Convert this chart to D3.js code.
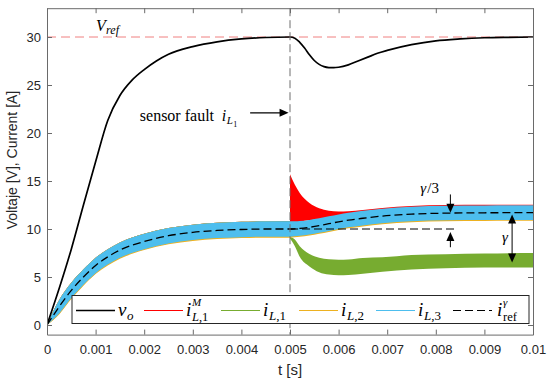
<!DOCTYPE html>
<html><head><meta charset="utf-8">
<script src="https://cdn.jsdelivr.net/npm/d3@7"></script>
<style>body{margin:0;background:#fff}</style>
</head><body><svg id="c" width="550" height="384"></svg>
<script>
// ---------------- data ----------------
const tTicks = [0,0.001,0.002,0.003,0.004,0.005,0.006,0.007,0.008,0.009,0.01];
const tTickLabels = ["0","0.001","0.002","0.003","0.004","0.005","0.006","0.007","0.008","0.009","0.01"];
const yTicks = [0,5,10,15,20,25,30];
const vRef = 30;
const tFault = 0.005;

// output voltage v_o
const tV = [0,0.00025,0.0005,0.00075,0.001,0.00125,0.0015,0.00175,0.002,0.00225,0.0025,0.003,0.0035,0.004,0.0045,0.005,
            0.0051,0.0052,0.0053,0.0054,0.0055,0.0056,0.0057,0.0058,0.0059,0.006,0.0062,0.0064,0.0066,0.0068,0.007,0.0075,0.008,0.0085,0.009,0.0095,0.01];
const vo = [0,3.8,7.9,12.5,17.0,21.3,23.9,25.5,26.6,27.5,28.2,29.0,29.5,29.8,29.95,30,
            29.88,29.45,28.85,28.15,27.55,27.15,26.92,26.82,26.8,26.85,27.1,27.5,27.9,28.3,28.6,29.2,29.6,29.8,29.92,29.97,30];

// currents before the fault (all phases alike)
const tPre = [0,0.00025,0.0005,0.00075,0.001,0.00125,0.0015,0.002,0.0025,0.003,0.0035,0.004,0.0045,0.005];
const iPreHi = [0,2.6,4.4,5.8,7.0,7.9,8.6,9.5,10.1,10.45,10.65,10.75,10.8,10.8];
const iPreLo = [0,1.2,2.8,4.2,5.4,6.3,7.0,7.9,8.5,8.85,9.05,9.15,9.2,9.2];
const iL2PreLo = [0,1.1,2.7,4.1,5.3,6.2,6.9,7.8,8.4,8.75,8.95,9.05,9.1,9.1];
const iRefPre = [0,1.9,3.6,5.0,6.2,7.1,7.8,8.7,9.3,9.65,9.85,9.95,10.0,10.0];

// after the fault
const tPost = [0.005,0.0051,0.0052,0.0054,0.0056,0.0058,0.006,0.0062,0.0065,0.0069,0.0075,0.0082,0.009,0.01];
const iRefPost  = [10.0,10.02,10.06,10.18,10.35,10.55,10.75,10.92,11.12,11.35,11.55,11.65,11.69,11.7];
const iL3PostHi = [10.8,10.8,10.83,10.95,11.12,11.32,11.52,11.69,11.89,12.12,12.32,12.42,12.46,12.47];
const iL3PostLo = [9.2,9.25,9.3,9.42,9.6,9.8,10.0,10.17,10.37,10.6,10.8,10.9,10.94,10.95];
const iL2PostHi = [10.7,10.7,10.73,10.85,11.02,11.22,11.42,11.59,11.79,12.02,12.22,12.32,12.36,12.37];
const iL2PostLo = [9.1,9.15,9.2,9.32,9.5,9.7,9.9,10.07,10.27,10.5,10.7,10.8,10.84,10.85];
const iM1PostHi = [15.7,14.6,13.75,12.7,12.15,11.9,11.82,11.85,11.98,12.2,12.4,12.5,12.52,12.52];
const iM1PostLo = [10.4,10.6,10.75,10.9,11.05,11.25,11.4,11.5,11.6,11.7,11.8,11.85,11.85,11.85];
const iL1PostHi = [9.2,8.9,8.2,7.4,7.0,6.85,6.8,6.82,6.98,7.05,7.3,7.38,7.45,7.5];
const iL1PostLo = [9.0,8.2,7.1,6.1,5.5,5.25,5.18,5.2,5.35,5.55,5.78,5.92,5.98,6.0];

// annotations (data coordinates)
const refHoldEnd = 0.0084;       // dashed level at 10 A
const refHoldLevel = 10;
const gamma = 5;

// ---------------- drawing ----------------
const svg = d3.select("#c");
const x = d3.scaleLinear().domain([0,0.01]).range([47,533]);
const y = d3.scaleLinear().domain([-1,33]).range([334.6,8.2]);
const colors = {vo:"#000000", iM1:"#ff0000", iL1:"#77ac30", iL2:"#edb120", iL3:"#4dbeee", ref:"#000000"};

const defs = svg.append("defs");
defs.append("clipPath").attr("id","clip").append("rect")
  .attr("x",x(0)).attr("y",y(33)).attr("width",x(0.01)-x(0)).attr("height",y(-1)-y(33));

const plot = svg.append("g").attr("clip-path","url(#clip)");

const zip = (t,lo,hi)=>t.map((d,i)=>({t:d,lo:lo[i],hi:hi[i]}));
const area = d3.area().x(d=>x(d.t)).y0(d=>y(d.lo)).y1(d=>y(d.hi)).curve(d3.curveMonotoneX);
const line = d3.line().x(d=>x(d.t)).y(d=>y(d.v)).curve(d3.curveMonotoneX);

// red: measured i_L1 (pre + post)
plot.append("path").attr("d",area(zip(tPre,iPreLo,iPreHi))).attr("fill",colors.iM1);
plot.append("path").attr("d",area(zip(tPost,iM1PostLo,iM1PostHi))).attr("fill",colors.iM1);
// green: real i_L1
plot.append("path").attr("d",area(zip(tPre,iPreLo,iPreHi))).attr("fill",colors.iL1);
plot.append("path").attr("d",area(zip(tPost,iL1PostLo,iL1PostHi))).attr("fill",colors.iL1);
// orange i_L2
const tAll = tPre.concat(tPost.slice(1));
plot.append("path").attr("d",area(zip(tAll,iL2PreLo.concat(iL2PostLo.slice(1)),iPreHi.slice(0,-1).concat(iL2PostHi)))).attr("fill",colors.iL2);
// blue i_L3
plot.append("path").attr("d",area(zip(tAll,iPreLo.concat(iL3PostLo.slice(1)),iPreHi.concat(iL3PostHi.slice(1))))).attr("fill",colors.iL3);

// Vref line
plot.append("line").attr("x1",x(0)).attr("x2",x(0.01)).attr("y1",y(vRef)).attr("y2",y(vRef))
  .attr("stroke","#f08080").attr("stroke-width",1).attr("stroke-dasharray","9,5");

// reference current
const refAll = iRefPre.concat(iRefPost.slice(1));
plot.append("path").attr("d",line(tAll.map((t,i)=>({t, v: refAll[i]})))).attr("fill","none").attr("stroke",colors.ref)
  .attr("stroke-width",1.3).attr("stroke-dasharray","8,4");

// hold level dashed
plot.append("line").attr("x1",x(tFault)).attr("x2",x(refHoldEnd)).attr("y1",y(refHoldLevel)).attr("y2",y(refHoldLevel))
  .attr("stroke","#000").attr("stroke-width",1).attr("stroke-dasharray","8,4");

// v_o
plot.append("path").attr("d",line(tV.map((t,i)=>({t,v:vo[i]})))).attr("fill","none")
  .attr("stroke",colors.vo).attr("stroke-width",1.7);

// fault line
svg.append("line").attr("x1",x(tFault)).attr("x2",x(tFault)).attr("y1",y(33)).attr("y2",y(-1))
  .attr("stroke","#6e6e6e").attr("stroke-width",1).attr("stroke-dasharray","8,4");

// ---------- axes box ----------
const axisColor = "#262626";
const sans = "Liberation Sans, Arial, Helvetica, sans-serif";
const gx = svg.append("g").attr("transform",`translate(0,${y(-1)})`)
  .call(d3.axisBottom(x).tickValues(tTicks).tickFormat((d,i)=>tTickLabels[i]).tickSizeInner(-5).tickSizeOuter(0).tickPadding(10));
const gxt = svg.append("g").attr("transform",`translate(0,${y(33)})`)
  .call(d3.axisTop(x).tickValues(tTicks).tickFormat("").tickSizeInner(-5).tickSizeOuter(0));
const gy = svg.append("g").attr("transform",`translate(${x(0)},0)`)
  .call(d3.axisLeft(y).tickValues(yTicks).tickSizeInner(-5).tickSizeOuter(0).tickPadding(6));
const gyr = svg.append("g").attr("transform",`translate(${x(0.01)},0)`)
  .call(d3.axisRight(y).tickValues(yTicks).tickFormat("").tickSizeInner(-5).tickSizeOuter(0));
[gx,gxt,gy,gyr].forEach(g=>{
  g.select(".domain").attr("stroke","#6a6a6a");
  g.selectAll(".tick line").attr("stroke","#6a6a6a");
  g.selectAll("text").attr("fill",axisColor).attr("font-family",sans).attr("font-size","13px");
});

svg.append("text").attr("x",(x(0)+x(0.01))/2).attr("y",375).attr("text-anchor","middle")
  .attr("font-family",sans).attr("font-size","15px").attr("fill",axisColor).text("t [s]");
svg.append("text").attr("transform",`translate(17,160) rotate(-90)`).attr("text-anchor","middle")
  .attr("font-family",sans).attr("font-size","14px").attr("fill",axisColor).text("Voltaje [V], Current [A]");

// ---------- annotations ----------
const serif = "Liberation Serif, Times New Roman, serif";
function txt(g, px, py, s, size, italic, anchor){
  return g.append("text").attr("x",px).attr("y",py).text(s)
    .attr("font-family",serif).attr("font-size",size+"px").attr("font-style",italic?"italic":"normal")
    .attr("text-anchor",anchor||"start").attr("fill","#000");
}
function head(g, px, py, dir){ // dir: 'up','down','right'
  const L=9, w=4;
  let p;
  if(dir==="down") p=[[px,py],[px-w,py-L],[px+w,py-L]];
  if(dir==="up") p=[[px,py],[px-w,py+L],[px+w,py+L]];
  if(dir==="right") p=[[px,py],[px-L,py-w],[px-L,py+w]];
  g.append("path").attr("d","M"+p.join("L")+"Z").attr("fill","#000");
}
const ann = svg.append("g");
// V_ref label
txt(ann, x(0.00101), y(30.65), "V", 16, true);
txt(ann, x(0.00101)+10, y(30.65)+3, "ref", 12, true);
// sensor fault
const sfY = y(21.3);
txt(ann, x(0.00191), sfY, "sensor fault", 16, false);
txt(ann, x(0.00191)+82, sfY, "i", 16, true);
txt(ann, x(0.00191)+87, sfY+3, "L", 11, true);
txt(ann, x(0.00191)+93.5, sfY+6, "1", 8, false);
ann.append("line").attr("x1",x(0.00418)).attr("x2",x(0.00485)).attr("y1",y(22.1)).attr("y2",y(22.1)).attr("stroke","#000").attr("stroke-width",1.2);
head(ann, x(0.00497), y(22.1), "right");
// gamma/3 arrows
const ta = 0.0083;
const refEnd = iRefPost[iRefPost.length-1];
ann.append("line").attr("x1",x(ta)).attr("x2",x(ta)).attr("y1",y(13.6)).attr("y2",y(refEnd)-8).attr("stroke","#000").attr("stroke-width",1);
head(ann, x(ta), y(refEnd), "down");
ann.append("line").attr("x1",x(ta)).attr("x2",x(ta)).attr("y1",y(8.1)).attr("y2",y(9.7)+8).attr("stroke","#000").attr("stroke-width",1);
head(ann, x(ta), y(9.7), "up");
txt(ann, x(0.00768), y(13.75), "γ", 15, true);
txt(ann, x(0.00768)+7, y(13.75), "/3", 15, false);
// gamma arrow
const tg = 0.00957;
ann.append("line").attr("x1",x(tg)).attr("x2",x(tg)).attr("y1",y(refEnd-0.2)+8).attr("y2",y(refEnd-0.2-gamma)-8).attr("stroke","#000").attr("stroke-width",1);
head(ann, x(tg), y(refEnd-0.2), "up");
head(ann, x(tg), y(refEnd-0.2-gamma), "down");
txt(ann, x(0.00936), y(8.6), "γ", 15, true);

// ---------- legend ----------
const lg = svg.append("g");
lg.append("rect").attr("x",72).attr("y",295.5).attr("width",457).attr("height",28)
  .attr("fill","#fff").attr("stroke","#262626").attr("stroke-width",1);
const ly = 310.5, bl = 316;
const items = [
  {c:colors.vo, x0:76, dash:null},
  {c:colors.iM1, x0:144, dash:null},
  {c:colors.iL1, x0:221, dash:null},
  {c:colors.iL2, x0:299, dash:null},
  {c:colors.iL3, x0:376, dash:null},
  {c:colors.ref, x0:453, dash:"8,4"}
];
items.forEach(it=>{
  lg.append("line").attr("x1",it.x0).attr("x2",it.x0+39).attr("y1",ly).attr("y2",ly)
    .attr("stroke",it.c).attr("stroke-width",it.c==="#000000"&&!it.dash?1.6:1.2).attr("stroke-dasharray",it.dash);
});
// labels
txt(lg, 118, bl, "v", 19, true); txt(lg, 127, bl+4, "o", 13, true);
txt(lg, 186, bl, "i", 19, true); txt(lg, 192, bl-10, "M", 11, true);
let t1 = txt(lg, 192, bl+5, "", 12.5, true); t1.append("tspan").text("L"); t1.append("tspan").attr("font-style","normal").text(",1");
txt(lg, 263, bl, "i", 19, true);
t1 = txt(lg, 269, bl+4, "", 13, true); t1.append("tspan").text("L"); t1.append("tspan").attr("font-style","normal").text(",1");
txt(lg, 341, bl, "i", 19, true);
t1 = txt(lg, 347, bl+4, "", 13, true); t1.append("tspan").text("L"); t1.append("tspan").attr("font-style","normal").text(",2");
txt(lg, 418, bl, "i", 19, true);
t1 = txt(lg, 424, bl+4, "", 13, true); t1.append("tspan").text("L"); t1.append("tspan").attr("font-style","normal").text(",3");
txt(lg, 497, bl, "i", 19, true); txt(lg, 503, bl-10, "γ", 11, true); txt(lg, 503, bl+5, "ref", 12.5, false);
</script></body></html>
